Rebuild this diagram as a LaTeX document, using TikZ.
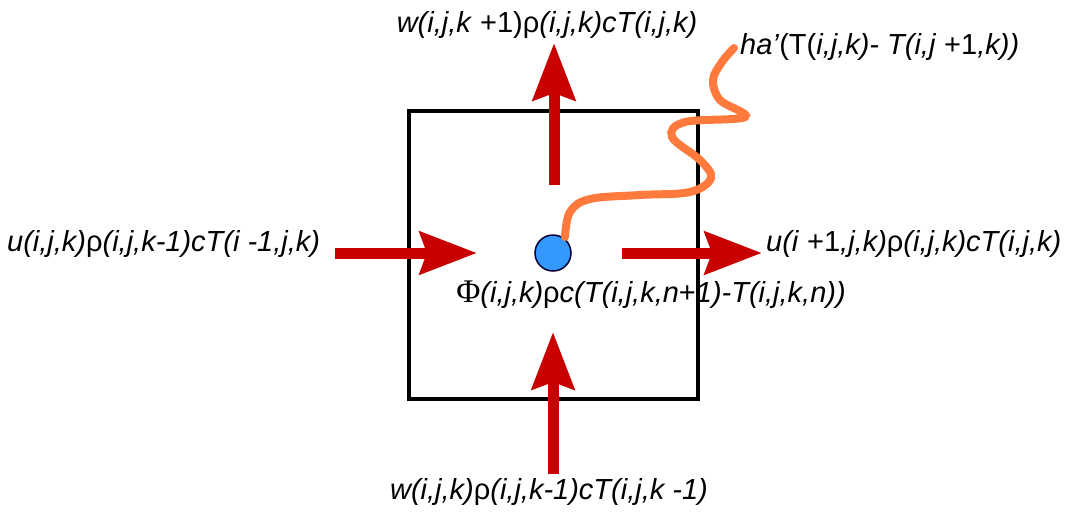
\documentclass[tikz,border=0pt]{standalone}
\usepackage{fontspec}
\setmainfont{Liberation Sans}
\newfontfamily\serifphi{Liberation Serif}
\usetikzlibrary{arrows.meta}
\definecolor{flowred}{RGB}{200,0,0}
\definecolor{waveorange}{RGB}{255,122,60}
\definecolor{dotblue}{RGB}{51,153,255}
\tikzset{
  flow/.style={draw=flowred, line width=11pt, -{Stealth[length=57pt,width=42pt,inset=7pt,fill=flowred]}},
  lbl/.style={inner sep=0pt, font=\fontsize{29}{32}\selectfont},
  cell/.style={draw=black, line width=4.5pt, minimum width=289pt, minimum height=288pt, inner sep=0pt},
}
\begin{document}
\begin{tikzpicture}[x=1pt,y=-1pt]
\useasboundingbox (0,0) rectangle (1076,512);
\fill[white] (0,0) rectangle (1076,512);
% cell
\node[cell] (box) at (553.5,255) {};
% centre point
\node[circle, draw=black!80!blue, line width=1.5pt, fill=dotblue, minimum size=36pt, inner sep=0pt] (dot) at (553,253) {};
% arrow coordinates
\coordinate (lstart) at (335,253);  \coordinate (lend) at (477,253);
\coordinate (rstart) at (622,253);  \coordinate (rend) at (762,253);
\coordinate (tstart) at (554,185);  \coordinate (tend) at (554,43);
\coordinate (bstart) at (553,474);  \coordinate (bend) at (553,332);
\draw[flow] (lstart) -- (lend);
\draw[flow] (rstart) -- (rend);
\draw[flow] (tstart) -- (tend);
\draw[flow] (bstart) -- (bend);
% orange wave
\coordinate (wend) at (734,48);
\draw[waveorange, line width=8pt, line cap=round] plot[smooth, tension=0.6] coordinates {
 (565,237) (570,212) (590,199) (640,195) (690,192) (711,178) (700,160) (672,137)
 (685,122) (745,117) (720,100) (713,80) (722,62) (734,48)};
% labels
\node[lbl, anchor=west] (ltxt) at (7,244) {\textit{u(i,j,k)}ρ\textit{(i,j,k-1)cT(i -1,j,k)}};
\node[lbl, anchor=west] (rtxt) at (766,244) {\textit{u(i }+1\textit{,j,k)}ρ\textit{(i,j,k)cT(i,j,k)}};
\node[lbl, anchor=center] (ttxt) at (547,25) {\textit{w(i,j,k }+1)ρ\textit{(i,j,k)cT(i,j,k)}};
\node[lbl, anchor=center] (btxt) at (549,492) {\textit{w(i,j,k)}ρ\textit{(i,j,k-1)cT(i,j,k -1)}};
\node[lbl, anchor=west] (htxt) at (740,47) {\textit{ha’}(T(\textit{i,j,k)- T(i,j }+1\textit{,k))}};
\node[lbl, anchor=center] (ptxt) at (651,295) {{\serifphi\fontsize{33}{33}\selectfont Φ}\textit{(i,j,k)}ρ\textit{c(T(i,j,k,n}+\textit{1)-T(i,j,k,n))}};
\end{tikzpicture}
\end{document}
